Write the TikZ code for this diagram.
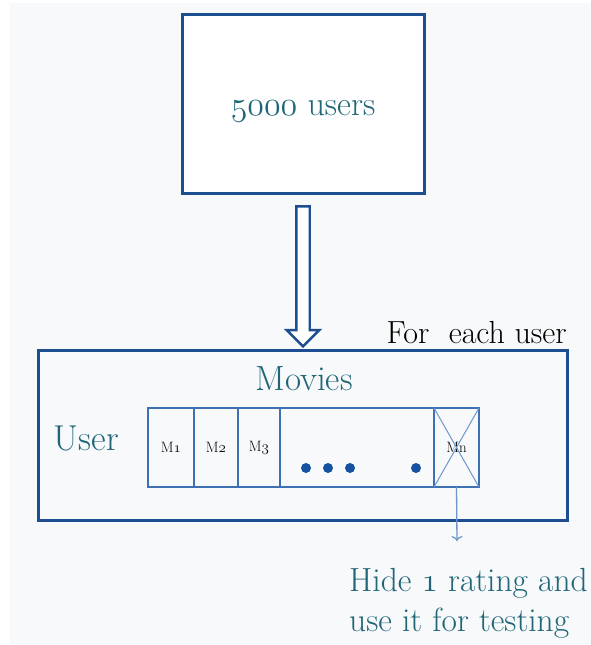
\RequirePackage{fix-cm}
\documentclass[tikz,border=0pt]{standalone}
\usetikzlibrary{positioning,shapes.arrows,arrows.meta}

\definecolor{boxblue}{RGB}{28,78,145}
\definecolor{cellblue}{RGB}{62,112,180}
\definecolor{crossblue}{RGB}{110,150,205}
\definecolor{tealtext}{RGB}{32,102,120}
\definecolor{dotblue}{RGB}{22,82,160}
\definecolor{paper}{RGB}{248,249,250}

% old style digits
\newcommand{\osf}[1]{{\usefont{OML}{cmm}{m}{it}#1}}

\begin{document}
\begin{tikzpicture}[x=1pt, y=-1pt,
    bigbox/.style={draw=boxblue, line width=3pt},
    heading/.style={text=tealtext, inner sep=0pt, font=\fontsize{35}{40}\selectfont},
    cell/.style={draw=cellblue, line width=1.3pt, minimum height=79pt, inner sep=0pt, outer sep=0pt, font=\fontsize{15}{17}\selectfont},
    hollow/.style={single arrow, draw=boxblue, fill=white, line width=2.4pt, inner sep=5.5pt, single arrow head extend=9.5pt, shape border rotate=270},
    cross/.style={draw=crossblue, line width=1pt},
    arrow/.style={-{To[length=5pt, width=11pt]}, draw=crossblue, line width=1.3pt}
]
\useasboundingbox[fill=white] (0,0) rectangle (591,645);
\fill[paper] (10,3) rectangle (591,645);

\node[bigbox, fill=white, minimum width=242pt, minimum height=179pt, heading, font=\fontsize{34}{40}\selectfont, text height=29pt, text depth=6pt] at (303,103.5) (users) {\osf{5000} users};
\node[hollow, minimum height=140pt] at (303,273) (down) {};

\node[bigbox, minimum width=529pt, minimum height=170pt] at (302.5,435) (row) {};
\node[anchor=base east, inner sep=0pt, font=\fontsize{32}{36}\selectfont] at (567,343) (each) {For\ \ each user};
\node[heading, anchor=base] at (304,390) (movies) {Movies};
\node[heading, anchor=base, font=\fontsize{36}{40}\selectfont] at (86.5,450) (user) {User};

\node[cell, minimum width=46pt] at (171,447.5) (m1) {M\osf{1}};
\node[cell, minimum width=44pt, right=0pt of m1] (m2) {M\osf{2}};
\node[cell, minimum width=42pt, right=0pt of m2] (m3) {M\osf{3}};
\node[cell, minimum width=154pt, right=0pt of m3] (rest) {};
\node[cell, minimum width=45pt, right=0pt of rest] (mn) {Mn};

\foreach \dx in {306,328,350,416}
    \fill[dotblue] (\dx,468) circle (5pt);
\draw[cross] (mn.north west) -- (mn.south east) (mn.north east) -- (mn.south west);

\coordinate (tip) at (457,541);
\draw[arrow] (mn.south) -- (tip);
\node[heading, anchor=north west, align=left, font=\fontsize{33.5}{40}\selectfont] at (349,568) (hide) {Hide \osf{1} rating and\\use it for testing};
\end{tikzpicture}
\end{document}
